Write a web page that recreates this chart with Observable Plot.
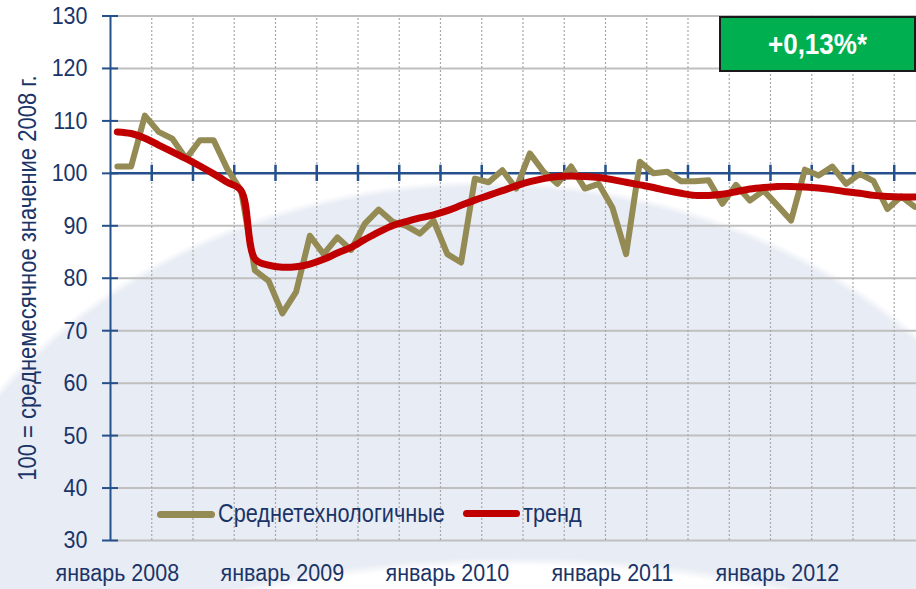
<!DOCTYPE html>
<html>
<head>
<meta charset="utf-8">
<script src="https://cdn.jsdelivr.net/npm/d3@7"></script>
<script src="https://cdn.jsdelivr.net/npm/@observablehq/plot@0.6"></script>
<style>
  body { margin: 0; background: #fff; }
  #wrap {
    position: relative; width: 916px; height: 589px; overflow: hidden;
    background:
      radial-gradient(460px 150px at 515px 707px, #ffffff 0, #ffffff 94%, rgba(255,255,255,0) 100%),
      radial-gradient(600px 500px at 485px 680px, #E8ECF4 0, #E8ECF4 98.5%, rgba(232,236,244,0) 100%),
      #ffffff;
    font-family: "Liberation Sans", Arial, sans-serif;
    color: #1B3468;
  }
  #wrap svg { position: absolute; left: 0; top: 0; }
  .ytitle {
    position: absolute; left: 28px; top: 278px; white-space: nowrap;
    transform: translate(-50%, -50%) rotate(-90deg) scaleY(1.15); font-size: 22px;
  }
  .leg { position: absolute; height: 7px; border-radius: 4px; }
  .legtxt { position: absolute; font-size: 21.7px; line-height: 24px; white-space: nowrap;
    transform: scaleY(1.15); transform-origin: 0 50%; }
  .badge {
    position: absolute; left: 719px; top: 16px; width: 197px; height: 56px;
    box-sizing: border-box; background: #00B050; border: 2px solid #1a1a1a;
    color: #fff; font-weight: bold; font-size: 26px;
    display: flex; align-items: center; justify-content: center;
  }
  .badge span { display: inline-block; transform: scaleY(1.1); }
</style>
</head>
<body>
<div id="wrap"></div>
<script>
// ---- data ----
const monthLabels = [
  "2008-01","2008-02","2008-03","2008-04","2008-05","2008-06","2008-07","2008-08","2008-09","2008-10","2008-11","2008-12",
  "2009-01","2009-02","2009-03","2009-04","2009-05","2009-06","2009-07","2009-08","2009-09","2009-10","2009-11","2009-12",
  "2010-01","2010-02","2010-03","2010-04","2010-05","2010-06","2010-07","2010-08","2010-09","2010-10","2010-11","2010-12",
  "2011-01","2011-02","2011-03","2011-04","2011-05","2011-06","2011-07","2011-08","2011-09","2011-10","2011-11","2011-12",
  "2012-01","2012-02","2012-03","2012-04","2012-05","2012-06","2012-07","2012-08","2012-09","2012-10","2012-11"
];
const medtech = [
  101.3, 101.3, 111.0, 107.9, 106.6, 102.8, 106.3, 106.3, 100.8, 96.7, 81.5, 79.5,
  73.3, 77.4, 88.1, 84.6, 87.8, 85.4, 90.4, 93.1, 90.8, 90.0, 88.5, 91.0,
  84.6, 83.0, 99.0, 98.3, 100.6, 97.1, 103.8, 100.3, 98.0, 101.3, 97.1, 98.0,
  93.5, 84.6, 102.2, 100.0, 100.3, 98.5, 98.5, 98.7, 94.2, 97.8, 94.8, 96.7,
  93.9, 91.0, 100.7, 99.6, 101.3, 98.0, 99.9, 98.5, 93.2, 95.6, 93.6
];
const trend = [
  107.9, 107.6, 106.7, 105.4, 104.1, 102.8, 101.4, 99.9, 98.3, 96.7, 83.7, 82.5,
  82.1, 82.2, 82.7, 83.6, 84.8, 85.9, 87.4, 88.8, 90.0, 90.8, 91.5, 92.1,
  92.9, 93.9, 94.9, 95.8, 96.7, 97.6, 98.4, 99.0, 99.4, 99.5, 99.4, 99.2,
  98.8, 98.3, 97.8, 97.3, 96.7, 96.2, 95.8, 95.8, 96.0, 96.5, 97.0, 97.3,
  97.5, 97.5, 97.4, 97.2, 96.9, 96.5, 96.2, 95.8, 95.6, 95.5, 95.5
];
const yearLabels = ["январь 2008", "январь 2009", "январь 2010", "январь 2011", "январь 2012"];
const yearStartMonths = ["2008-01", "2009-01", "2010-01", "2011-01", "2012-01"];
const yTicks = [30, 40, 50, 60, 70, 80, 90, 100, 110, 120, 130];
const seriesNames = ["Среднетехнологичные", "тренд"];
const badgeText = "+0,13%*";
const yTitle = "100 = среднемесячное значение 2008 г.";

// ---- styles ----
const OLIVE = "#948A54", RED = "#C00000", AXIS = "#24508C", TEXT = "#1B3468";
const FONT = '"Liberation Sans", Arial, sans-serif';
const FS = 21.5;
const STRETCH = 1.15;

// category position: centre of each month slot
const pos = m => monthLabels.indexOf(m) + 0.5;
const rows = monthLabels.map((m, i) => ({m, x: pos(m), v: medtech[i], t: trend[i]}));
const quarterLines = monthLabels.map((m, i) => i).filter(i => i > 0 && i % 3 === 0);
const yearTickPos = yearStartMonths.map(pos);

const chart = Plot.plot({
  width: 916, height: 589,
  marginTop: 15.5, marginBottom: 49, marginLeft: 110, marginRight: 0,
  style: {background: "transparent", fontFamily: FONT, fontSize: FS + "px", color: TEXT, overflow: "visible"},
  x: {type: "linear", domain: [0, 58.62]},
  y: {domain: [30, 130]},
  marks: [
    Plot.ruleY(yTicks.filter(v => v !== 100), {stroke: "#BFBFBF", strokeWidth: 2}),
    Plot.ruleX(quarterLines, {y1: 30, y2: 130, stroke: "#A8A8A8", strokeWidth: 1.2, strokeDasharray: "2,2"}),
    Plot.ruleY([100], {stroke: AXIS, strokeWidth: 2.5}),
    Plot.ruleX(quarterLines, {y1: 98.45, y2: 101.55, stroke: AXIS, strokeWidth: 2.5}),
    Plot.ruleX([0], {y1: 30, y2: 130, stroke: AXIS, strokeWidth: 2}),
    Plot.ruleY(yTicks, {x1: -0.58, x2: 0.58, stroke: AXIS, strokeWidth: 2}),
    Plot.axisY({ticks: yTicks, tickSize: 0, tickPadding: 23, label: null, fill: TEXT, fontSize: FS}),
    Plot.axisX({ticks: yearTickPos, tickSize: 0, tickPadding: 41.5 - 0.71 * FS * STRETCH, label: null, fill: TEXT, fontSize: FS,
      tickFormat: d => yearLabels[yearTickPos.indexOf(d)]}),
    Plot.line(rows, {x: "x", y: "v", stroke: OLIVE, strokeWidth: 6, strokeLinejoin: "round", strokeLinecap: "round"}),
    Plot.line(rows, {x: "x", y: "t", curve: "catmull-rom", stroke: RED, strokeWidth: 7, strokeLinejoin: "round", strokeLinecap: "round"})
  ]
});

const wrap = document.getElementById("wrap");
wrap.appendChild(chart);

// stretch axis text vertically (reference glyphs are taller than they are wide)
chart.querySelectorAll("text").forEach(t => {
  const b = t.getBBox();
  const cy = b.y + b.height / 2;
  const tr = t.getAttribute("transform") || "";
  t.setAttribute("transform", `${tr} translate(0,${cy}) scale(1,${STRETCH}) translate(0,${-cy})`);
});

const add = (cls, css, text) => {
  const d = document.createElement("div");
  d.className = cls;
  Object.assign(d.style, css);
  if (text) d.textContent = text;
  wrap.appendChild(d);
  return d;
};
add("ytitle", {}, yTitle);
add("leg", {left: "157px", top: "510.5px", width: "58px", background: OLIVE});
add("legtxt", {left: "218px", top: "502px"}, seriesNames[0]);
add("leg", {left: "463px", top: "510px", width: "57px", background: RED});
add("legtxt", {left: "523px", top: "502px"}, seriesNames[1]);
const badge = add("badge", {});
const bs = document.createElement("span");
bs.textContent = badgeText;
badge.appendChild(bs);
</script>
</body>
</html>
